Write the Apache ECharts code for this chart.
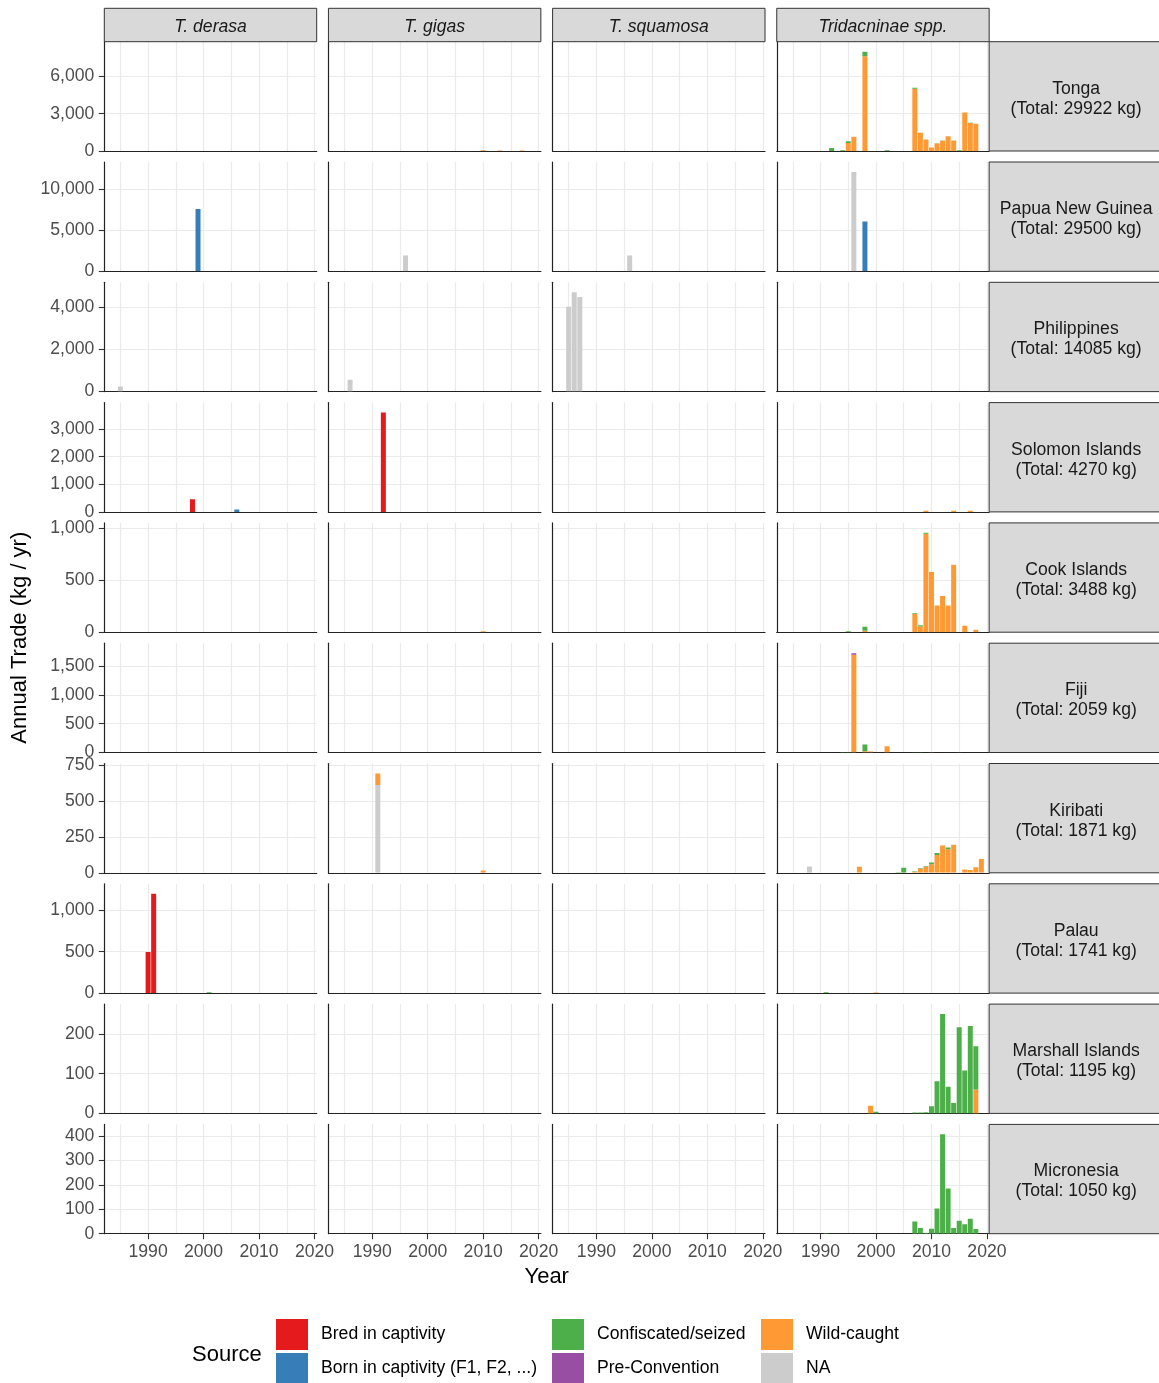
<!DOCTYPE html>
<html><head><meta charset="utf-8">
<script src="https://cdn.jsdelivr.net/npm/echarts@6/dist/echarts.min.js"></script>
<style>html,body{margin:0;padding:0;background:#fff}#c{width:1159px;height:1383px}</style>
</head><body><div id="c"></div>
<script>
// ---------------- data ----------------
const speciesCodes = ['der', 'gig', 'squ', 'tri'];
const speciesLabels = ['T. derasa', 'T. gigas', 'T. squamosa', 'Tridacninae spp.'];
const countries = ['Tonga', 'Papua New Guinea', 'Philippines', 'Solomon Islands', 'Cook Islands',
  'Fiji', 'Kiribati', 'Palau', 'Marshall Islands', 'Micronesia'];
const countryTotals = [29922, 29500, 14085, 4270, 3488, 2059, 1871, 1741, 1195, 1050];
// stacking order, bottom -> top
const sourceCodes = ['N', 'W', 'P', 'C', 'F', 'B'];
const sourceLabels = { B: 'Bred in captivity', F: 'Born in captivity (F1, F2, ...)', C: 'Confiscated/seized',
  P: 'Pre-Convention', W: 'Wild-caught', N: 'NA' };
const sourceColors = { B: '#E41A1C', F: '#377EB8', C: '#4DAF4A', P: '#984EA3', W: '#FF9933', N: '#CCCCCC' };
const years = [1983, 1984, 1985, 1986, 1987, 1988, 1989, 1990, 1991, 1992, 1993, 1994, 1995, 1996, 1997,
  1998, 1999, 2000, 2001, 2002, 2003, 2004, 2005, 2006, 2007, 2008, 2009, 2010, 2011, 2012, 2013, 2014,
  2015, 2016, 2017, 2018, 2019];
const xLabelYears = [1990, 2000, 2010, 2020];
const xGridYears = [1985, 1990, 1995, 2000, 2005, 2010, 2015, 2020];
const yTickStep = [3000, 5000, 2000, 1000, 500, 500, 250, 500, 100, 100];

// records: [species, source, year, kg]
const tonga = [
  ['gig', 'W', 2010, 60], ['gig', 'W', 2013, 40], ['gig', 'W', 2017, 40],
  ['tri', 'C', 1992, 250], ['tri', 'C', 1994, 60],
  ['tri', 'W', 1995, 650], ['tri', 'C', 1995, 140],
  ['tri', 'W', 1996, 1140],
  ['tri', 'W', 1998, 7600], ['tri', 'C', 1998, 380],
  ['tri', 'C', 2002, 60],
  ['tri', 'W', 2007, 5000], ['tri', 'C', 2007, 80],
  ['tri', 'W', 2008, 1460], ['tri', 'W', 2009, 920], ['tri', 'W', 2010, 280],
  ['tri', 'W', 2011, 600], ['tri', 'C', 2011, 30],
  ['tri', 'W', 2012, 820], ['tri', 'C', 2012, 30],
  ['tri', 'W', 2013, 1190], ['tri', 'W', 2014, 840], ['tri', 'C', 2015, 60],
  ['tri', 'W', 2016, 3100],
  ['tri', 'W', 2017, 2240], ['tri', 'C', 2017, 30],
  ['tri', 'W', 2018, 2190]
];
const png = [
  ['der', 'F', 1999, 7550],
  ['gig', 'N', 1996, 1920],
  ['squ', 'N', 1996, 1930],
  ['tri', 'N', 1996, 12050], ['tri', 'F', 1998, 6050]
];
const philippines = [
  ['der', 'N', 1985, 240],
  ['gig', 'N', 1986, 560],
  ['squ', 'N', 1985, 4040], ['squ', 'N', 1986, 4730], ['squ', 'N', 1987, 4505]
];
const solomon = [
  ['der', 'B', 1998, 460], ['der', 'F', 2006, 90],
  ['gig', 'B', 1992, 3600],
  ['tri', 'W', 2009, 40], ['tri', 'W', 2014, 40], ['tri', 'W', 2017, 40]
];
const cook = [
  ['gig', 'W', 2010, 10],
  ['tri', 'C', 1995, 10],
  ['tri', 'W', 1998, 13], ['tri', 'C', 1998, 40],
  ['tri', 'W', 2007, 175], ['tri', 'C', 2007, 8],
  ['tri', 'W', 2008, 55], ['tri', 'C', 2008, 12],
  ['tri', 'W', 2009, 950], ['tri', 'C', 2009, 8],
  ['tri', 'W', 2010, 580], ['tri', 'W', 2011, 258], ['tri', 'W', 2012, 350],
  ['tri', 'W', 2013, 258], ['tri', 'W', 2014, 650], ['tri', 'W', 2016, 62], ['tri', 'W', 2018, 24]
];
const fiji = [
  ['tri', 'C', 1994, 8], ['tri', 'C', 1995, 8],
  ['tri', 'W', 1996, 1700], ['tri', 'P', 1996, 28],
  ['tri', 'W', 1998, 20], ['tri', 'C', 1998, 120],
  ['tri', 'W', 1999, 18], ['tri', 'W', 2002, 110],
  ['tri', 'C', 2007, 6], ['tri', 'C', 2008, 6], ['tri', 'W', 2010, 6], ['tri', 'C', 2015, 6]
];
const kiribati = [
  ['gig', 'N', 1991, 609], ['gig', 'W', 1991, 81], ['gig', 'W', 2010, 16],
  ['tri', 'N', 1988, 44], ['tri', 'W', 1997, 42],
  ['tri', 'C', 2004, 4], ['tri', 'C', 2005, 35],
  ['tri', 'W', 2007, 8], ['tri', 'C', 2007, 3],
  ['tri', 'W', 2008, 30], ['tri', 'C', 2008, 3],
  ['tri', 'W', 2009, 44], ['tri', 'C', 2009, 4],
  ['tri', 'W', 2010, 60], ['tri', 'C', 2010, 12],
  ['tri', 'W', 2011, 123], ['tri', 'C', 2011, 14],
  ['tri', 'W', 2012, 190],
  ['tri', 'W', 2013, 164], ['tri', 'C', 2013, 12],
  ['tri', 'W', 2014, 194], ['tri', 'W', 2016, 23], ['tri', 'W', 2017, 19],
  ['tri', 'W', 2018, 39], ['tri', 'W', 2019, 95]
];
const palau = [
  ['der', 'B', 1990, 495], ['der', 'B', 1991, 1200], ['der', 'C', 2001, 10],
  ['tri', 'C', 1991, 10], ['tri', 'W', 2000, 8]
];
const marshall = [
  ['tri', 'W', 1999, 19], ['tri', 'C', 2000, 4],
  ['tri', 'C', 2007, 2], ['tri', 'C', 2008, 2], ['tri', 'C', 2009, 3],
  ['tri', 'C', 2010, 18], ['tri', 'C', 2011, 81], ['tri', 'C', 2012, 250], ['tri', 'C', 2013, 67],
  ['tri', 'C', 2014, 26], ['tri', 'C', 2015, 217], ['tri', 'C', 2016, 108], ['tri', 'C', 2017, 220],
  ['tri', 'C', 2018, 109], ['tri', 'W', 2018, 60]
];
const micronesia = [
  ['tri', 'C', 1991, 2], ['tri', 'C', 2007, 50], ['tri', 'C', 2008, 23], ['tri', 'C', 2009, 3],
  ['tri', 'C', 2010, 20], ['tri', 'C', 2011, 103], ['tri', 'C', 2012, 408], ['tri', 'C', 2013, 186],
  ['tri', 'C', 2014, 23], ['tri', 'C', 2015, 53], ['tri', 'C', 2016, 39], ['tri', 'C', 2017, 61],
  ['tri', 'C', 2018, 19]
];
const byCountry = [tonga, png, philippines, solomon, cook, fiji, kiribati, palau, marshall, micronesia];

// ---------------- layout ----------------
const X0 = 104.3, COLSTEP = 224.15, PW = 212.4;
const Y0 = 41.7, ROWSTEP = 120.3, PH = 109.3;
const STRIP_TOP = 8.3;
const BAR_W = 0.9; // bar width in years
const FONT = '"Liberation Sans", Arial, Helvetica, sans-serif';
const AXIS_TXT = '#4D4D4D';
const AXIS_LINE = '#222222';
const GRID_LINE = '#EBEBEB';
const TXT = 17.6;
const TXT_DY = 2.5; // baseline nudge for centred text

const fmt = v => String(Math.round(v)).replace(/\B(?=(\d{3})+(?!\d))/g, ',');

// stacked bar segment drawn through the axes' scales
function renderStackedBar(params, api) {
  const yr = api.value(0), lo = api.value(1), hi = api.value(2);
  if (!(hi > lo)) return null;
  const p0 = api.coord([yr - BAR_W / 2, lo]);
  const p1 = api.coord([yr + BAR_W / 2, hi]);
  return {
    type: 'rect',
    shape: { x: p0[0], y: p1[1], width: p1[0] - p0[0], height: p0[1] - p1[1] },
    style: { fill: api.visual('color') }
  };
}

const grids = [], xAxes = [], yAxes = [], series = [], graphics = [];

for (let r = 0; r < countries.length; r++) {
  const recs = byCountry[r];
  const totals = {};
  recs.forEach(rec => { const k = rec[0] + '_' + rec[2]; totals[k] = (totals[k] || 0) + rec[3]; });
  const rowMax = Math.max.apply(null, Object.values(totals));
  const yMax = rowMax * 1.1;
  const step = yTickStep[r];
  const yTicks = [];
  for (let v = 0; v <= yMax; v += step) yTicks.push(v);

  for (let c = 0; c < 4; c++) {
    const idx = r * 4 + c;
    const left = X0 + c * COLSTEP, top = Y0 + r * ROWSTEP;
    grids.push({ left: left, top: top, width: PW, height: PH, containLabel: false });
    xAxes.push({
      type: 'value', gridIndex: idx, min: 1982.1, max: 2020.4, position: 'bottom',
      axisLine: { show: true, onZero: false, lineStyle: { color: AXIS_LINE, width: 1.2 } },
      axisTick: { show: false, customValues: xGridYears },
      axisLabel: { show: false },
      splitLine: { show: true, lineStyle: { color: GRID_LINE, width: 1.2 } }
    });
    const bottom = r === countries.length - 1;
    xAxes.push({
      type: 'value', gridIndex: idx, min: 1982.1, max: 2020.4, position: 'bottom', offset: 0,
      axisLine: { show: false },
      axisTick: { show: bottom, length: 5.5, customValues: xLabelYears, lineStyle: { color: '#333333', width: 1.1 } },
      axisLabel: { show: bottom, customValues: xLabelYears, margin: 9, color: AXIS_TXT,
        fontSize: TXT, fontFamily: FONT, formatter: v => String(v) },
      splitLine: { show: false }
    });
    yAxes.push({
      type: 'value', gridIndex: idx, min: 0, max: yMax, interval: step,
      axisLine: { show: true, onZero: false, lineStyle: { color: AXIS_LINE, width: 1.2 } },
      axisTick: { show: c === 0, length: 5.5, customValues: yTicks, lineStyle: { color: '#333333', width: 1.1 } },
      axisLabel: { show: c === 0, customValues: yTicks, margin: 10, color: AXIS_TXT,
        fontSize: TXT, fontFamily: FONT, formatter: fmt, padding: [3, 0, 0, 0] },
      splitLine: { show: true, lineStyle: { color: GRID_LINE, width: 1.2 } }
    });

    const panelRecs = recs.filter(rec => rec[0] === speciesCodes[c]);
    const base = {};
    sourceCodes.forEach(s => {
      const sr = panelRecs.filter(rec => rec[1] === s);
      if (!sr.length) return;
      const data = [];
      years.forEach(y => {
        const m = sr.find(rec => rec[2] === y);
        if (!m) return;
        const lo = base[y] || 0;
        const hi = lo + m[3];
        base[y] = hi;
        data.push([y, lo, hi]);
      });
      series.push({
        type: 'custom', name: sourceLabels[s], xAxisIndex: 2 * idx, yAxisIndex: idx,
        renderItem: renderStackedBar, data: data, silent: true, clip: true,
        encode: { x: 0, y: [1, 2] },
        itemStyle: { color: sourceColors[s] }
      });
    });
  }

  const top = Y0 + r * ROWSTEP;
  graphics.push({ type: 'rect', shape: { x: X0 + 3 * COLSTEP + PW, y: top, width: 176, height: PH },
    style: { fill: '#D9D9D9', stroke: '#333333', lineWidth: 1 }, z: 10 });
  graphics.push({ type: 'text', x: X0 + 3 * COLSTEP + PW + 87, y: top + PH / 2 + TXT_DY, z: 11,
    style: { text: countries[r] + '\n(Total: ' + countryTotals[r] + ' kg)', fill: '#1A1A1A',
      fontSize: TXT, fontFamily: FONT, lineHeight: 20, textAlign: 'center', textVerticalAlign: 'middle',
      align: 'center', verticalAlign: 'middle' } });
}

for (let c = 0; c < 4; c++) {
  const left = X0 + c * COLSTEP;
  graphics.push({ type: 'rect', shape: { x: left, y: STRIP_TOP, width: PW, height: Y0 - STRIP_TOP },
    style: { fill: '#D9D9D9', stroke: '#333333', lineWidth: 1 }, z: 10 });
  graphics.push({ type: 'text', x: left + PW / 2, y: (STRIP_TOP + Y0) / 2 + TXT_DY, z: 11,
    style: { text: speciesLabels[c], fill: '#1A1A1A', fontSize: TXT, fontStyle: 'italic', fontFamily: FONT,
      textAlign: 'center', textVerticalAlign: 'middle', align: 'center', verticalAlign: 'middle' } });
}

graphics.push({ type: 'text', x: X0 + (3 * COLSTEP + PW) / 2, y: 1274 + TXT_DY, z: 11,
  style: { text: 'Year', fill: '#000', fontSize: 22, fontFamily: FONT,
    textAlign: 'center', textVerticalAlign: 'middle', align: 'center', verticalAlign: 'middle' } });
graphics.push({ type: 'text', x: 20, y: (Y0 + Y0 + 9 * ROWSTEP + PH) / 2, rotation: Math.PI / 2, z: 11,
  style: { text: 'Annual Trade (kg / yr)', fill: '#000', fontSize: 22, fontFamily: FONT,
    textAlign: 'center', textVerticalAlign: 'middle', align: 'center', verticalAlign: 'middle' } });
graphics.push({ type: 'text', x: 192, y: 1352 + TXT_DY, z: 11,
  style: { text: 'Source', fill: '#000', fontSize: 22, fontFamily: FONT,
    textAlign: 'left', textVerticalAlign: 'middle', align: 'left', verticalAlign: 'middle' } });

const legendCols = [['B', 'F'], ['C', 'P'], ['W', 'N']];
const legendLeft = [276, 552, 761];
const legends = legendCols.map((codes, i) => ({
  data: codes.map(s => ({ name: sourceLabels[s], itemStyle: { color: sourceColors[s] } })),
  left: legendLeft[i], top: 1319, height: 120, orient: 'vertical',
  itemWidth: 32, itemHeight: 31, itemGap: 3, padding: 0, icon: 'rect', selectedMode: false,
  textStyle: { fontSize: TXT, color: '#000', fontFamily: FONT, padding: [6, 0, 0, 8] }
}));

const chart = echarts.init(document.getElementById('c'), null, { renderer: 'canvas' });
chart.setOption({
  animation: false,
  backgroundColor: '#ffffff',
  textStyle: { fontFamily: FONT },
  grid: grids, xAxis: xAxes, yAxis: yAxes, series: series,
  legend: legends, graphic: { elements: graphics }
});
</script></body></html>
